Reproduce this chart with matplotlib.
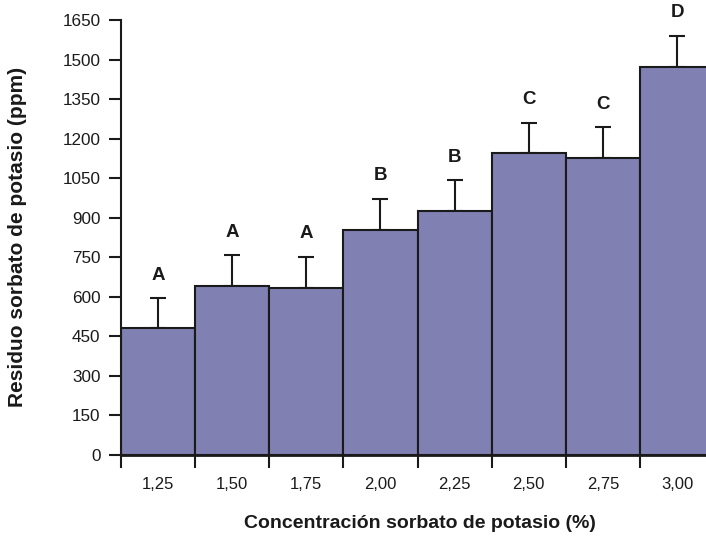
import matplotlib.pyplot as plt
import numpy as np

plt.rcParams['font.family'] = ['Liberation Sans', 'DejaVu Sans']

concentracion = ['1,25', '1,50', '1,75', '2,00', '2,25', '2,50', '2,75', '3,00']
residuo = [480, 640, 635, 855, 927, 1145, 1127, 1472]
error = [115, 118, 117, 117, 115, 115, 117, 118]
letras = ['A', 'A', 'A', 'B', 'B', 'C', 'C', 'D']

W, H = 706, 543
fig = plt.figure(figsize=(W / 100, H / 100), dpi=100)
# axes runs a little past the right edge, the last bar is cut like in the original
ax = fig.add_axes([120.7 / W, (H - 455) / H, 593.6 / W, 435 / H])

x = np.arange(len(residuo))
ax.bar(x, residuo, width=1.0, align='edge', color='#8080B3',
       edgecolor='#1a1a1a', linewidth=1.5, zorder=2)
ax.errorbar(x + 0.5, residuo, yerr=[np.zeros(len(error)), error], fmt='none',
            ecolor='#1a1a1a', elinewidth=1.5, capsize=5.8, capthick=1.5, zorder=1)

for xi, yi, ei, l in zip(x, residuo, error, letras):
    ax.annotate(l, (xi + 0.5, yi + ei), xytext=(0, 23), textcoords='offset pixels',
                ha='center', va='center', fontsize=13.5, fontweight='bold', color='#1a1a1a')

ax.set_xlim(0, 8)
ax.set_ylim(0, 1650)
ax.set_yticks(np.arange(0, 1651, 150))
ax.set_xticks(x + 0.5)
ax.set_xticklabels(concentracion)
ax.set_xticks(np.arange(0, 9), minor=True)
ax.tick_params(axis='x', which='major', length=0, pad=16, labelsize=12, colors='#1a1a1a')
ax.tick_params(axis='x', which='minor', length=9, width=1.5, color='#1a1a1a')
ax.tick_params(axis='y', length=9, width=1.5, pad=5.5, labelsize=12.3, colors='#1a1a1a')

for s in ['top', 'right']:
    ax.spines[s].set_visible(False)
ax.spines['left'].set_linewidth(1.5)
ax.spines['bottom'].set_linewidth(2)
ax.spines['left'].set_color('#1a1a1a')
ax.spines['bottom'].set_color('#1a1a1a')

fig.text(420 / W, 1 - 523 / H, 'Concentración sorbato de potasio (%)', ha='center', va='center',
         fontsize=14, fontweight='bold', color='#1a1a1a')
fig.text(18 / W, 1 - 237 / H, 'Residuo sorbato de potasio (ppm)', ha='center', va='center',
         rotation=90, fontsize=15, fontweight='bold', color='#1a1a1a')

fig.savefig('out.png', dpi=100)
